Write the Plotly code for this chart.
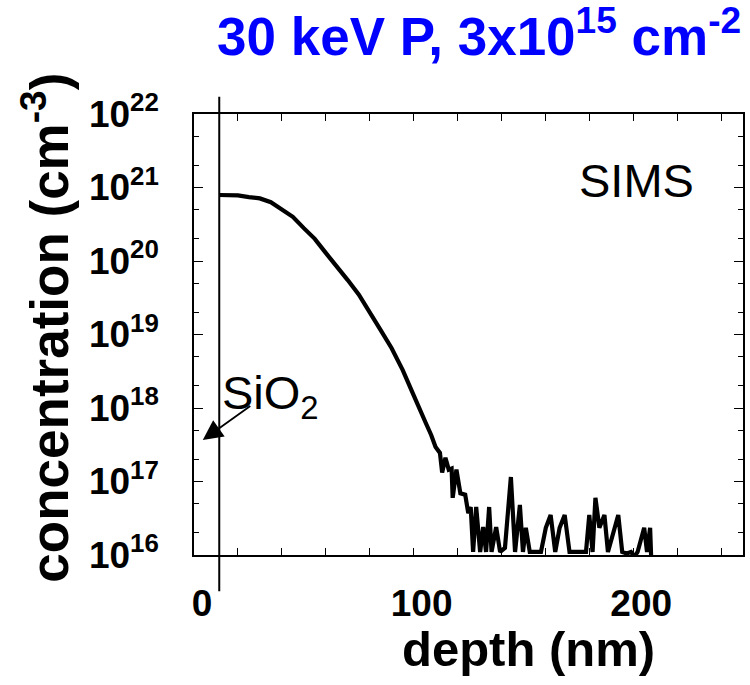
import plotly.graph_objects as go

# ---------------- data ----------------
depth_nm = [11.5, 15, 20, 25, 30, 35, 40, 45, 50, 55, 60, 65, 70, 75, 80, 85, 90, 95, 100,
            103, 105.5, 108, 110, 112, 113, 114.5, 116, 117.3, 117.8, 119.5, 121.3, 123.5,
            124.9, 126, 127.1, 128.5, 130.3, 131.7, 133, 134.4, 135.5, 137.6, 139.4, 141.6,
            144.3, 146.2, 148.4, 149.8, 151.1, 152.9, 158, 160.2, 162.4, 164.5, 166.5, 168.8,
            171, 178.5, 180, 181.5, 182.8, 184.6, 186.9, 188.5, 193.2, 195, 197, 199, 200.5,
            202, 205, 206.3, 207.7, 208.2]
concentration = [7.9e20, 7.9e20, 7.8e20, 7.4e20, 7.1e20, 6.3e20, 5.1e20, 4.0e20, 2.8e20, 2.0e20,
                 1.29e20, 8.5e19, 5.5e19, 3.5e19, 2.04e19, 1.15e19, 6.5e18, 3.3e18, 1.5e18,
                 8.9e17, 6.3e17, 4.3e17, 2.95e17, 2.45e17, 1.32e17, 2.1e17, 1.45e17, 1.5e17,
                 6.0e16, 1.45e17, 6.9e16, 6.6e16,
                 3.7e16, 4.5e16, 1.1e16, 4.5e16, 1.1e16, 2.4e16, 1.1e16, 4.5e16, 1.1e16, 2.4e16,
                 1.1e16, 1.25e16,
                 1.15e17, 1.1e16, 4.8e16, 1.1e16, 2.35e16, 1.1e16, 1.1e16, 2.35e16, 3.5e16,
                 1.1e16, 2.35e16, 3.5e16,
                 1.1e16, 1.1e16, 3.5e16, 1.1e16, 6.0e16, 2.35e16, 3.5e16, 1.1e16, 3.5e16,
                 1.1e16, 1.05e16, 1.1e16, 9.5e15,
                 1.1e16, 2.35e16, 1.1e16, 2.35e16, 9.0e15]

oxide_thickness_nm = 11.5
x_tick_vals = [0, 100, 200]
x_tick_text = ["0", "100", "200"]
y_tick_vals = [1e16, 1e17, 1e18, 1e19, 1e20, 1e21, 1e22]
y_tick_text = ["10<sup>16</sup>", "10<sup>17</sup>", "10<sup>18</sup>", "10<sup>19</sup>",
               "10<sup>20</sup>", "10<sup>21</sup>", "10<sup>22</sup>"]
title_text = "30 keV P, 3x10<sup>15</sup> cm<sup>-2</sup>"
x_title = "depth (nm)"
y_title = "concentration (cm<sup>-3</sup>)"
label_sims = "SIMS"
label_oxide = "SiO<sub>2</sub>"

FONT = "Liberation Sans, Arial, sans-serif"

fig = go.Figure()
fig.add_trace(go.Scatter(x=depth_nm, y=concentration, mode="lines",
                         line=dict(color="black", width=4.2), showlegend=False))

fig.update_layout(
    width=750, height=685,
    margin=dict(l=194, r=5, t=114, b=130),
    paper_bgcolor="white", plot_bgcolor="white",
    showlegend=False,
)

fig.update_xaxes(
    range=[0, 250], tickvals=x_tick_vals, ticktext=x_tick_text,
    ticks="inside", ticklen=7, tickwidth=1.2, tickcolor="black",
    minor=dict(ticks="inside", ticklen=7, tickwidth=1.2, tickcolor="black", dtick=20, showgrid=False),
    showline=True, linecolor="black", linewidth=1.5, mirror="ticks",
    showgrid=False, zeroline=False,
    tickfont=dict(family=FONT, size=37, color="black", weight="bold"),
    ticklabelstandoff=15, ticklabelshift=8,
)
fig.update_yaxes(
    type="log", range=[16, 22], tickvals=y_tick_vals, ticktext=y_tick_text,
    ticks="inside", ticklen=9, tickwidth=1.2, tickcolor="black",
    minor=dict(ticks="inside", ticklen=5, tickwidth=1, tickcolor="black", showgrid=False),
    showline=True, linecolor="black", linewidth=1.5, mirror="ticks",
    showgrid=False, zeroline=False,
    tickfont=dict(family=FONT, size=37, color="black", weight="bold"),
    ticklabelstandoff=26,
)

# interface line (oxide / silicon)
fig.add_shape(type="line", xref="x", yref="paper", x0=oxide_thickness_nm, x1=oxide_thickness_nm,
              y0=-0.082, y1=1.039, line=dict(color="black", width=2))

# title
fig.add_annotation(text=title_text, xref="paper", yref="paper", x=0.52, y=1.185,
                   xanchor="center", yanchor="middle", showarrow=False,
                   font=dict(family=FONT, size=53, color="#0000ff", weight="bold"))
# axis titles
fig.add_annotation(text=x_title, xref="paper", yref="paper", x=0.61, y=-0.214,
                   xanchor="center", yanchor="middle", showarrow=False,
                   font=dict(family=FONT, size=49, color="black", weight="bold"))
fig.add_annotation(text=y_title, xref="paper", yref="paper", x=-0.27, y=0.515,
                   xanchor="center", yanchor="middle", showarrow=False, textangle=-90,
                   font=dict(family=FONT, size=53, color="black", weight="bold"))
# SIMS label
fig.add_annotation(text=label_sims, xref="paper", yref="paper", x=0.806, y=0.85,
                   xanchor="center", yanchor="middle", showarrow=False,
                   font=dict(family=FONT, size=47, color="black"))
# SiO2 label
fig.add_annotation(text=label_oxide, xref="paper", yref="paper", x=0.048, y=0.36,
                   xanchor="left", yanchor="middle", showarrow=False,
                   font=dict(family=FONT, size=47, color="black"))
# arrow
fig.add_annotation(text="", xref="paper", yref="paper", x=0.016, y=0.261,
                   ax=49, ay=-35, axref="pixel", ayref="pixel",
                   showarrow=True, arrowhead=2, arrowsize=2.2, arrowwidth=1.8, arrowcolor="black")

fig.write_html("out.html")
